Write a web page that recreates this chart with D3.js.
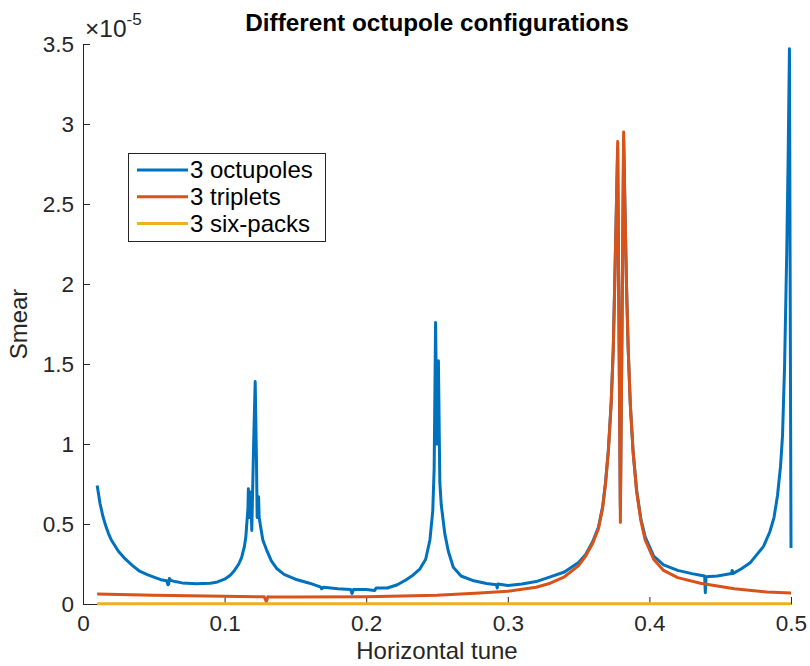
<!DOCTYPE html>
<html>
<head>
<meta charset="utf-8">
<script src="https://cdn.jsdelivr.net/npm/d3@7"></script>
<style>
  body { margin: 0; background: #fff; }
  text { font-family: 'Liberation Sans', Arial, Helvetica, sans-serif; }
</style>
</head>
<body>
<svg id="chart" width="810" height="666"></svg>
<script>
// values are in units of 1e-5
const octupoleTune = [
  0.010, 0.012, 0.014, 0.016, 0.018, 0.020, 0.025, 0.030, 0.035, 0.040,
  0.045, 0.050, 0.055, 0.059, 0.060, 0.0605, 0.061, 0.062, 0.065, 0.070,
  0.080, 0.090, 0.095, 0.100, 0.104, 0.107, 0.110, 0.112, 0.114, 0.1150,
  0.1165, 0.1168, 0.1172, 0.1185, 0.1192, 0.1205, 0.1216, 0.1225, 0.1230, 0.1240,
  0.1244, 0.1255, 0.1270, 0.130, 0.133, 0.137, 0.142, 0.150, 0.160, 0.168,
  0.1685, 0.170, 0.180, 0.189, 0.190, 0.191, 0.200, 0.206, 0.207, 0.215,
  0.222, 0.228, 0.233, 0.238, 0.242, 0.245, 0.247, 0.248, 0.2490, 0.2500,
  0.2510, 0.2520, 0.2530, 0.2555, 0.258, 0.2615, 0.267, 0.276, 0.285, 0.292,
  0.2925, 0.293, 0.300, 0.310, 0.320, 0.330, 0.340, 0.350, 0.355, 0.360,
  0.364, 0.367, 0.369, 0.371, 0.373, 0.3745, 0.3755, 0.3765, 0.3776, 0.3795,
  0.3818, 0.3828, 0.3838, 0.385, 0.3865, 0.3885, 0.391, 0.394, 0.397, 0.403,
  0.410, 0.420, 0.430, 0.436, 0.439, 0.4395, 0.440, 0.448, 0.458, 0.4585,
  0.459, 0.465, 0.4714, 0.476, 0.4806, 0.485, 0.488, 0.4905, 0.4926, 0.494,
  0.4955, 0.497, 0.498, 0.4989, 0.500
]
const octupoleSmear = [
  0.74, 0.63, 0.55, 0.49, 0.44, 0.40, 0.33, 0.28, 0.24, 0.205,
  0.185, 0.168, 0.152, 0.145, 0.12, 0.125, 0.16, 0.148, 0.14, 0.132,
  0.126, 0.13, 0.138, 0.155, 0.18, 0.21, 0.25, 0.29, 0.36, 0.42,
  0.60, 0.72, 0.54, 0.70, 0.46, 1.0, 1.39, 0.9, 0.54, 0.67,
  0.54, 0.48, 0.40, 0.33, 0.27, 0.22, 0.185, 0.155, 0.13, 0.105,
  0.095, 0.105, 0.095, 0.09, 0.065, 0.09, 0.09, 0.085, 0.10, 0.10,
  0.12, 0.15, 0.18, 0.22, 0.28, 0.40, 0.58, 0.85, 1.76, 1.0,
  1.52, 0.76, 0.62, 0.44, 0.33, 0.23, 0.175, 0.145, 0.128, 0.12,
  0.10, 0.125, 0.115, 0.125, 0.14, 0.17, 0.20, 0.26, 0.31, 0.39,
  0.48, 0.61, 0.76, 0.96, 1.26, 1.6, 2.0, 2.4, 2.85, 0.6,
  2.9, 2.45, 2.0, 1.6, 1.25, 0.95, 0.71, 0.53, 0.42, 0.30,
  0.245, 0.21, 0.19, 0.18, 0.175, 0.07, 0.17, 0.175, 0.19, 0.21,
  0.19, 0.22, 0.26, 0.31, 0.36, 0.45, 0.54, 0.68, 0.86, 1.05,
  1.5, 2.2, 2.8, 3.47, 0.35
]

const tripletTune = [
  0.010, 0.050, 0.100, 0.128, 0.1295, 0.1305, 0.132, 0.150, 0.200, 0.250,
  0.280, 0.300, 0.320, 0.330, 0.340, 0.350, 0.355, 0.360, 0.364, 0.367,
  0.369, 0.371, 0.373, 0.3745, 0.3755, 0.3765, 0.3776, 0.3795, 0.3818, 0.3828,
  0.3838, 0.385, 0.3865, 0.3885, 0.391, 0.394, 0.397, 0.403, 0.410, 0.420,
  0.436, 0.460, 0.483, 0.500
]
const tripletSmear = [
  0.062, 0.055, 0.048, 0.045, 0.015, 0.045, 0.044, 0.043, 0.045, 0.055,
  0.068, 0.08, 0.105, 0.13, 0.17, 0.24, 0.30, 0.38, 0.47, 0.60,
  0.75, 0.95, 1.25, 1.6, 2.0, 2.4, 2.89, 0.51, 2.95, 2.45,
  2.0, 1.6, 1.25, 0.95, 0.70, 0.52, 0.40, 0.28, 0.21, 0.165,
  0.13, 0.095, 0.075, 0.068
]

const sixpackTune = [0.010, 0.100, 0.200, 0.300, 0.400, 0.500]
const sixpackSmear = [0.002, 0.002, 0.002, 0.002, 0.002, 0.002]

const seriesNames = ['3 octupoles', '3 triplets', '3 six-packs']
const seriesColors = ['#0072BD', '#D95319', '#EDB120']

const xTicks = [0, 0.1, 0.2, 0.3, 0.4, 0.5]
const yTicks = [0, 0.5, 1, 1.5, 2, 2.5, 3, 3.5]

const series = [
  { name: seriesNames[0], x: octupoleTune, y: octupoleSmear },
  { name: seriesNames[1], x: tripletTune, y: tripletSmear },
  { name: seriesNames[2], x: sixpackTune, y: sixpackSmear },
]

const margin = { top: 44, right: 19, bottom: 62, left: 83 }
const width = 810
const height = 666
const chartWidth = width - margin.left - margin.right
const chartHeight = height - margin.top - margin.bottom
const axisColor = '#262626'

const x = d3.scaleLinear().domain([0, 0.5]).range([0, chartWidth])
const y = d3.scaleLinear().domain([0, 3.5]).range([chartHeight, 0])

const svg = d3
  .select('#chart')
  .append('g')
  .attr('transform', 'translate(' + margin.left + ',' + margin.top + ')')

// x axis (ticks inward)
const xAxis = svg
  .append('g')
  .attr('transform', 'translate(0,' + chartHeight + ')')
  .call(d3.axisBottom(x).tickValues(xTicks).tickFormat(d3.format('')).tickSize(-7).tickSizeOuter(0).tickPadding(11))
xAxis.select('.domain').attr('stroke', axisColor)
xAxis.selectAll('.tick line').attr('stroke', axisColor)
xAxis.selectAll('text').attr('fill', axisColor).style('font-size', '22.5px').attr('dy', '0.71em')

// y axis (ticks inward)
const yAxis = svg
  .append('g')
  .call(d3.axisLeft(y).tickValues(yTicks).tickFormat(d3.format('')).tickSize(-7).tickSizeOuter(0).tickPadding(9))
yAxis.select('.domain').attr('stroke', axisColor)
yAxis.selectAll('.tick line').attr('stroke', axisColor)
yAxis.selectAll('text').attr('fill', axisColor).style('font-size', '22.5px')

// exponent label
const expLabel = svg
  .append('text')
  .attr('x', 2)
  .attr('y', -7)
  .attr('fill', axisColor)
  .style('font-size', '24.5px')
expLabel.append('tspan').text('×10')
expLabel.append('tspan').attr('dy', -12).style('font-size', '17px').text('-5')

// axis titles
svg
  .append('text')
  .attr('x', chartWidth / 2)
  .attr('y', chartHeight + 55)
  .attr('text-anchor', 'middle')
  .attr('fill', axisColor)
  .style('font-size', '24px')
  .text('Horizontal tune')

svg
  .append('text')
  .attr('transform', 'translate(' + -56 + ',' + chartHeight / 2 + ') rotate(-90)')
  .attr('text-anchor', 'middle')
  .attr('fill', axisColor)
  .style('font-size', '24px')
  .text('Smear')

svg
  .append('text')
  .attr('x', chartWidth / 2)
  .attr('y', -13)
  .attr('text-anchor', 'middle')
  .attr('fill', '#000')
  .style('font-size', '24.3px')
  .style('font-weight', 'bold')
  .text('Different octupole configurations')

// lines
const line = d3
  .line()
  .x((d) => x(d[0]))
  .y((d) => y(d[1]))

svg
  .selectAll('path.series')
  .data(series)
  .join('path')
  .attr('class', 'series')
  .attr('d', (s) => line(s.x.map((v, i) => [v, s.y[i]])))
  .attr('fill', 'none')
  .attr('stroke', (s, i) => seriesColors[i])
  .attr('stroke-width', 3)
  .attr('stroke-linejoin', 'round')

// legend
const legendLayer = d3
  .select('#chart')
  .append('g')
  .attr('transform', 'translate(128,153)')

legendLayer
  .append('rect')
  .attr('x', 0.5)
  .attr('y', 0.5)
  .attr('width', 197)
  .attr('height', 88)
  .attr('fill', '#fff')
  .attr('stroke', axisColor)
  .attr('stroke-width', 1)

const rows = legendLayer
  .selectAll('g')
  .data(seriesNames)
  .join('g')
  .attr('transform', (d, i) => 'translate(0,' + (17 + i * 26.8) + ')')

rows
  .append('line')
  .attr('x1', 9)
  .attr('x2', 60)
  .attr('stroke', (d, i) => seriesColors[i])
  .attr('stroke-width', 3)

rows
  .append('text')
  .attr('x', 62)
  .attr('dy', '0.35em')
  .attr('fill', '#000')
  .style('font-size', '24px')
  .text((d) => d)
</script>
</body>
</html>
